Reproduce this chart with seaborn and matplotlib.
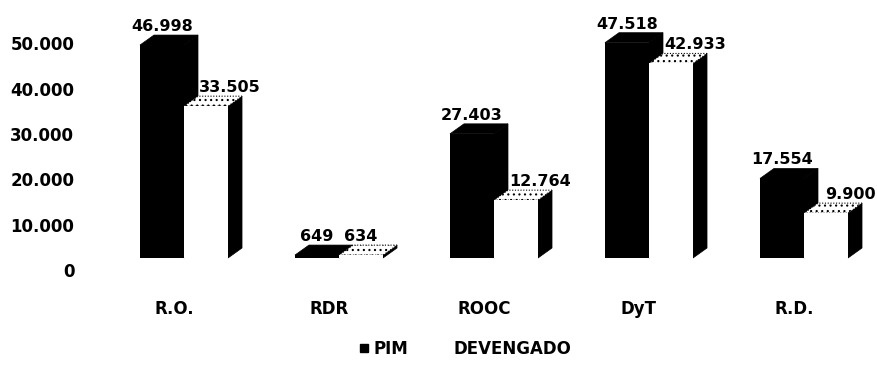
import matplotlib
matplotlib.use("Agg")
import matplotlib.pyplot as plt
import pandas as pd
import seaborn as sns
from matplotlib.patches import Polygon
from matplotlib.transforms import ScaledTranslation, IdentityTransform
from matplotlib.lines import Line2D

# Budget by funding source: PIM vs DEVENGADO
categorias = ["R.O.", "RDR", "ROOC", "DyT", "R.D."]
pim = [46998, 649, 27403, 47518, 17554]
devengado = [33505, 634, 12764, 42933, 9900]
series = ["PIM", "DEVENGADO"]
yticks = [0, 10000, 20000, 30000, 40000, 50000]


def miles(v):
    return f"{v:,.0f}".replace(",", ".")


df = pd.DataFrame({
    "categoria": categorias * 2,
    "serie": [series[0]] * len(pim) + [series[1]] * len(devengado),
    "monto": pim + devengado,
})

sns.set_theme(style="white")
plt.rcParams["font.family"] = ["DejaVu Sans"]
plt.rcParams["font.weight"] = "bold"
plt.rcParams["hatch.linewidth"] = 0.8
for key in ("text.color", "xtick.color", "ytick.color", "axes.labelcolor"):
    plt.rcParams[key] = "black"

DPI = 100
fig = plt.figure(figsize=(8.78, 3.65), dpi=DPI)
ax = fig.add_axes([91 / 878, 107 / 365, 782.75 / 878, 249.2 / 365])

sns.barplot(
    data=df, x="categoria", y="monto", hue="serie", hue_order=series,
    palette={"PIM": "black", "DEVENGADO": "white"},
    width=0.568, gap=0, linewidth=0, saturation=1,
    errorbar=None, legend=False, ax=ax,
)
ax.set_xlim(-0.6, 4.45)
ax.set_ylim(0, 55000)
for s in ax.spines.values():
    s.set_visible(False)
ax.set_xlabel("")
ax.set_ylabel("")

# pseudo-3D depth of the columns, in pixels
DX, DY = 14, 10

pim_bars = list(ax.containers[0])
dev_bars = list(ax.containers[1])
to_disp = ax.transData.transform


def faces(p):
    x0, w, h = p.get_x(), p.get_width(), p.get_height()
    (X0, Y0) = to_disp((x0, 0))
    (X1, Y1) = to_disp((x0 + w, h))
    top = [(X0, Y1), (X1, Y1), (X1 + DX, Y1 + DY), (X0 + DX, Y1 + DY)]
    side = [(X1, Y0), (X1, Y1), (X1 + DX, Y1 + DY), (X1 + DX, Y0 + DY)]
    return top, side


for p in pim_bars:
    top, side = faces(p)
    ax.add_patch(Polygon(side, closed=True, facecolor="black", edgecolor="black",
                         lw=0.5, transform=IdentityTransform(), zorder=2, clip_on=False))
    ax.add_patch(Polygon(top, closed=True, facecolor="black", edgecolor="black",
                         lw=0.5, transform=IdentityTransform(), zorder=2, clip_on=False))
    p.set_zorder(3)

for p in dev_bars:
    top, side = faces(p)
    ax.add_patch(Polygon(side, closed=True, facecolor="black", edgecolor="black",
                         lw=0.5, transform=IdentityTransform(), zorder=4, clip_on=False))
    ax.add_patch(Polygon(top, closed=True, facecolor="white", edgecolor="black",
                         lw=0.8, linestyle=(0, (1, 1.5)), hatch="...",
                         transform=IdentityTransform(), zorder=5, clip_on=False))
    p.set_zorder(6)

# value labels above each column
for p, v in zip(pim_bars, pim):
    ax.annotate(miles(v), xy=(p.get_x() + p.get_width() / 2, v),
                xytext=(0, DY + 1), textcoords="offset pixels",
                ha="center", va="bottom", fontsize=11.5, fontweight="bold",
                color="black", zorder=8, annotation_clip=False)

for p, q, v in zip(dev_bars, pim_bars, devengado):
    cx = p.get_x() + p.get_width() / 2
    lab_y = to_disp((cx, v))[1] + DY + 1
    nb_top = to_disp((cx, q.get_height()))[1] + DY
    shift = 24 if nb_top > lab_y + 5 else 0
    ax.annotate(miles(v), xy=(cx, v),
                xytext=(shift, DY + 1), textcoords="offset pixels",
                ha="center", va="bottom", fontsize=11.5, fontweight="bold",
                color="black", zorder=8, annotation_clip=False)

# axis labels
ax.set_yticks(yticks)
ax.set_yticklabels([miles(v) for v in yticks], fontsize=12, fontweight="bold", color="black")
ax.set_xticks(range(len(categorias)))
ax.set_xticklabels(categorias, fontsize=12, fontweight="bold", color="black")
ax.tick_params(axis="y", length=0, pad=12)
ax.tick_params(axis="x", length=0, pad=30)
for lab in ax.get_yticklabels():
    lab.set_transform(lab.get_transform() + ScaledTranslation(0, -0.12, fig.dpi_scale_trans))
for lab in ax.get_xticklabels():
    lab.set_transform(lab.get_transform() + ScaledTranslation(-0.10, 0, fig.dpi_scale_trans))

handles = [
    Line2D([], [], marker="s", linestyle="none", markersize=5.5,
           markerfacecolor="black", markeredgecolor="black"),
    Line2D([], [], marker="s", linestyle="none", markersize=5.5,
           markerfacecolor="white", markeredgecolor="white"),
]
fig.legend(handles, series, loc="center", bbox_to_anchor=(465 / 878, 1 - 349 / 365),
           ncol=2, frameon=False, handlelength=0.6, handletextpad=0.3,
           columnspacing=1.8, prop={"size": 12, "weight": "bold"}, labelcolor="black")

fig.savefig("out.png", dpi=DPI, facecolor="white")
